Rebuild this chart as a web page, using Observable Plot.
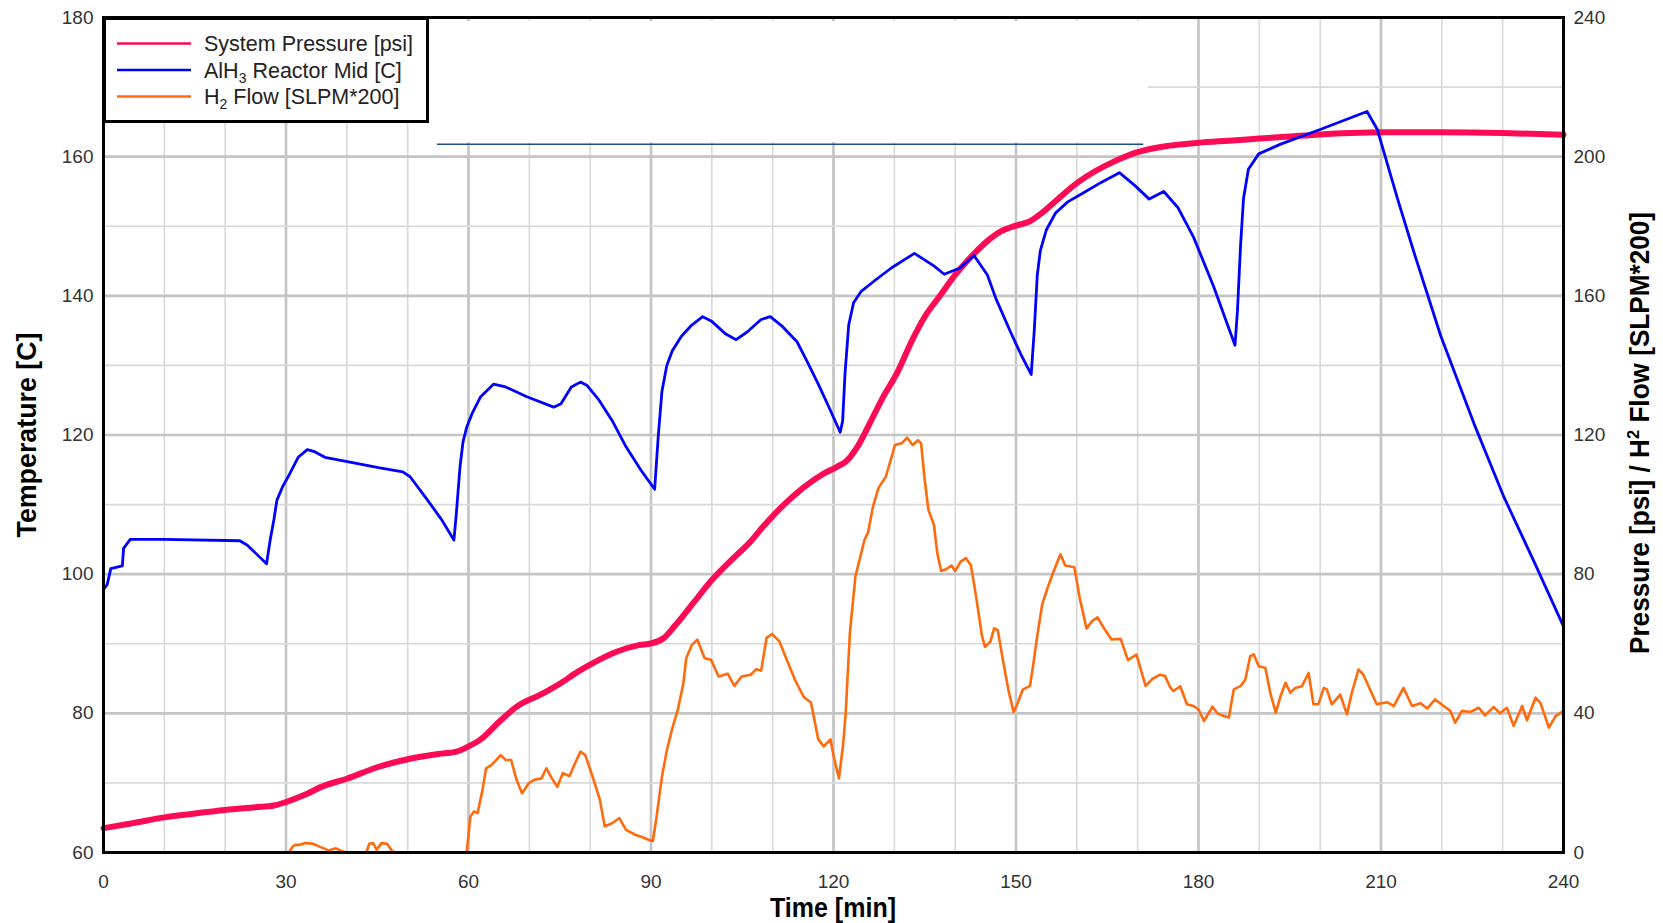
<!DOCTYPE html>
<html><head><meta charset="utf-8">
<script src="https://cdn.jsdelivr.net/npm/d3@7"></script>
<script src="https://cdn.jsdelivr.net/npm/@observablehq/plot@0.6"></script>
<style>
html,body{margin:0;padding:0;background:#fff;}
#chart{width:1663px;height:923px;}
</style></head><body><div id="chart"></div>
<script>
// ---- Data (time in minutes) ----
const tempTime = [0,0.6,1.2,3.1,3.3,4.4,10,22.4,23.6,26.8,27.4,28,28.5,29.4,30.6,32,33.5,34.7,36.4,40.5,45.2,49.2,50.4,53.3,55.6,57.6,58,58.6,59.1,59.7,60.6,62,64.1,66.1,69.6,74,75.2,76.9,78.4,79.5,81.3,83.6,85.9,88.3,90.6,91.2,91.8,92.6,93.5,95,96.7,98.5,99.9,102.3,104,105.8,108.1,109.6,111.6,114,115.7,117.5,119.2,121.1,121.5,121.9,122.5,123.3,124.5,126.8,129.5,133.3,136.5,138.2,140.8,143.1,145.3,146.7,149.1,150.8,152.5,153,153.5,154,155,156.5,158.5,160.9,164,167,169.6,171.9,174.3,176.6,179.2,182.5,186,186.4,186.9,187.4,188.2,189.9,193.5,200,207.7,209.4,212.7,215.4,219.8,225.3,230.2,235.1,240];
const tempValue = [97.8,98.5,100.8,101.2,103.7,105,105,104.8,104.2,101.5,104.9,107.8,110.6,112.5,114.4,116.8,117.9,117.6,116.8,116.1,115.3,114.7,114,110.6,107.8,104.9,108.7,115.4,119,121.1,123.1,125.5,127.3,126.9,125.5,124,124.5,126.9,127.6,127.1,125.2,122.1,118.3,115,112.2,119.9,126.3,130,132.1,134.2,135.8,137,136.4,134.5,133.7,134.8,136.6,137,135.6,133.4,130.5,127.3,124.1,120.4,122,128.9,135.8,139,140.6,142.2,144,146.1,144.3,143.1,144,145.8,143,139.6,134.8,131.6,128.7,135,143,146.5,149.5,151.9,153.5,154.7,156.3,157.7,155.8,153.9,155,152.7,148.4,141.3,132.9,137.8,147,154,158.2,160.4,161.8,163.9,166.5,163.9,154,146.3,134.3,121.6,111.1,101.9,92.5];

const pressTime = [0,5,10,15,20,25,28,30,33,36,40,45,50,55,58,60,62,65,68,72,75,78,80,84,88,90,92,94,97,100,103,106,109,112,115,118,120.5,122,124,126,128,130.5,133,135,137.5,140,142.5,145,147.5,150,152,154,157,160,163,166,170,175,180,185,190,195,200,205,210,220,230,240];
const pressValue = [7,8.5,10.1,11.2,12.2,13,13.5,14.5,16.5,19,21.2,24.5,26.8,28.3,29,30.5,32.5,37.5,42,45.5,48.5,52,54,57.5,59.6,60.1,61.5,65.3,71.8,78.3,83.7,88.7,94.8,100.2,104.8,108.5,110.8,112.3,116.8,123.5,130.4,138,147.5,154,160,166,171,175.3,178.5,180.2,181.2,183.5,188,192.4,195.8,198.5,201.3,203.1,204,204.6,205.2,205.8,206.4,206.8,207,207,206.8,206.3];

const flowTime = [0,30.5,31,31.5,32.3,33.2,34.4,35.5,37,38.2,39.3,40,43.2,43.7,44.3,44.9,45.7,46.6,47.5,48,59.7,60.3,60.9,61.5,62.3,62.9,63.8,65.3,66.1,67,67.9,68.8,69.9,70.8,72,72.8,73.7,74.6,75.5,76.6,77.5,78.4,79.2,80.4,81.6,82.4,83.6,84.8,85.9,87.4,88.6,89.7,90.3,90.9,91.8,92.6,93.5,94.4,95.3,95.8,96.7,97.6,98.8,99.9,101.1,102.6,103.7,104.9,106.4,107.3,108.1,109,109.9,111.1,112.2,113.7,115.1,116.3,117.5,118.4,119.5,120.1,120.9,121.6,122,122.7,123.6,124.5,125.1,125.7,126.5,127.4,128.6,129.5,130.1,131.2,132.1,133,133.9,134.4,135,135.6,136.5,137.1,137.7,138.5,139.4,140,140.9,141.8,142.6,143.5,144.4,144.9,145.8,146.4,147,147.9,148.8,149.6,150.2,151.1,152.3,152.9,153.5,154.3,155.2,156.1,157.3,158.1,159.6,160.5,161.6,162.5,163.4,164.3,165.7,167.2,168.4,169.8,171.3,172.5,173.7,174.5,175.4,175.9,177,178.1,179.2,180,180.9,182.3,183.1,183.9,185,185.8,186.9,187.7,188.5,189.1,189.9,191,191.8,192.7,193.5,194.3,195.1,195.9,197,198.1,198.9,199.7,200.6,201.1,201.9,203.3,204.4,205.2,206.3,207.1,209.3,211,212.1,213.7,215.1,216.5,217.6,218.9,220.3,221.4,222.2,223.3,224.7,226.1,227.1,228.5,229.6,230.7,231.8,233.2,234,235.4,236.2,237.6,238.7,239.8,240];
const flowValue = [0,0,1.5,2.2,2.2,2.7,2.5,1.7,0.6,1.2,0.3,0,0,2.5,2.7,0.8,2.7,2.5,0.3,0,0,10.3,11.8,11.3,18,24.2,25.2,28,26.6,26.6,20.9,17,19.9,20.9,21.3,24.2,21.3,18.9,22.8,22,25.6,29,28,21.8,15.1,7.5,8.4,9.9,6.5,5.1,4.4,3.6,3.3,10.1,21.8,29.3,35.7,41,48.4,55.9,59.6,61.2,55.9,55.3,50.6,51.4,47.9,50.6,51.1,52.7,52.2,61.7,62.8,60.7,55.9,49.5,44.7,43.1,32.5,30.5,32.5,27.1,21.3,31.4,39.9,63.3,79.3,85.7,89.9,92.1,99.5,104.8,108,113.4,117.1,117.6,119.2,117.1,118.5,117.6,107,98.5,94.2,85.7,80.9,81.4,82.5,80.9,83.6,84.6,82.5,72.9,62.3,59.1,60.7,64.4,63.9,54.8,46.3,40.4,42.6,46.8,47.9,54.8,62.3,71.3,76.1,80.4,85.7,82.5,82,72.9,64.4,66.5,67.6,64.9,61.2,61.4,55.3,56.9,47.9,50,51.1,50.7,47.3,46.4,47.8,42.6,42.1,41.1,37.8,41.9,40,39.4,38.8,46.9,47.8,49.7,56.4,56.9,53.5,53,45.9,40.2,45,48.8,45.9,47.3,47.8,51.6,42.6,42.6,47.3,46.9,42.6,45.4,39.7,45.9,52.6,51.1,42.6,43.2,42.1,47.3,42.1,42.9,41.4,44,42.1,40.7,37.3,40.7,40.4,41.6,39.4,41.8,40,41.6,36.4,42.1,38,44.5,43,35.9,39.2,40.4,40.4];

// Axis ticks / domains
const xDomain = [0, 240];
const tempDomain = [60, 180];      // left axis [C]
const rightDomain = [0, 240];      // right axis [psi] / flow
const xTickLabels = d3.range(0, 241, 30);
const xGridMinor = d3.range(0, 241, 10);
const yTickLabels = d3.range(60, 181, 20);
const yGridMinor = d3.range(60, 181, 10);

// Artifact in the original: white patch with a thin navy line
const patchTime = [53.6, 171.8];
const patchTemp = [162.0, 179.4];
const artifactLineTime = [54.9, 171.0];
const artifactLineTemp = [161.8];

const seriesColors = ["#ff0a55", "#0000ff", "#ff6a0d"];

// map right-axis values onto left scale
const toLeft = v => tempDomain[0] + (v - rightDomain[0]) * (tempDomain[1] - tempDomain[0]) / (rightDomain[1] - rightDomain[0]);
const fromLeft = t => rightDomain[0] + (t - tempDomain[0]) * (rightDomain[1] - rightDomain[0]) / (tempDomain[1] - tempDomain[0]);

const temp = tempTime.map((t, i) => ({t, v: tempValue[i]}));
const press = pressTime.map((t, i) => ({t, v: toLeft(pressValue[i])}));
const flow = flowTime.map((t, i) => ({t, v: toLeft(flowValue[i])}));

const FONT = "'Liberation Sans', Arial, Helvetica, sans-serif";

const plot = Plot.plot({
  width: 1663, height: 923,
  marginLeft: 103, marginRight: 100, marginTop: 17, marginBottom: 71,
  style: {fontFamily: FONT, fontSize: "19px", color: "#333", background: "#fff", overflow: "visible"},
  x: {domain: xDomain},
  y: {domain: tempDomain},
  marks: [
    Plot.gridX({ticks: xGridMinor, stroke: "#d9d9d9", strokeOpacity: 1, strokeWidth: 1.6}),
    Plot.gridX({ticks: xTickLabels, stroke: "#c4c4c4", strokeOpacity: 1, strokeWidth: 2.6}),
    Plot.gridY({ticks: yGridMinor, stroke: "#d9d9d9", strokeOpacity: 1, strokeWidth: 1.6}),
    Plot.gridY({ticks: yTickLabels, stroke: "#c4c4c4", strokeOpacity: 1, strokeWidth: 2.6}),
    Plot.rect([0], {x1: () => patchTime[0], x2: () => patchTime[1], y1: () => patchTemp[0], y2: () => patchTemp[1], fill: "#fff"}),
    Plot.ruleY(artifactLineTemp, {x1: artifactLineTime[0], x2: artifactLineTime[1], stroke: "#1d4f8a", strokeWidth: 1.5}),
    Plot.line(flow, {x: "t", y: "v", stroke: seriesColors[2], strokeWidth: 2.6, strokeLinejoin: "round"}),
    Plot.line(press, {x: "t", y: "v", stroke: seriesColors[0], strokeWidth: 6, curve: "monotone-x"}),
    Plot.line(temp, {x: "t", y: "v", stroke: seriesColors[1], strokeWidth: 2.8, strokeLinejoin: "round"}),
    Plot.frame({stroke: "#000", strokeWidth: 3}),
    Plot.axisX({ticks: xTickLabels, tickSize: 0, tickPadding: 22, label: null}),
    Plot.axisY({ticks: yTickLabels, anchor: "left", tickSize: 0, tickPadding: 10, label: null}),
    Plot.axisY({ticks: yTickLabels, anchor: "right", tickSize: 0, tickPadding: 10, label: null, tickFormat: d => String(fromLeft(d))})
  ]
});
document.getElementById("chart").appendChild(plot);

// ---- Titles and legend ----
const svg = d3.select(plot);
const titleFont = "'Liberation Sans', Arial, sans-serif";

svg.append("text").text("Time [min]")
  .attr("x", 833).attr("y", 917).attr("text-anchor", "middle")
  .attr("font-family", titleFont).attr("font-weight", "bold").attr("font-size", 27).attr("fill", "#000")
  .attr("textLength", 126).attr("lengthAdjust", "spacingAndGlyphs");

svg.append("text").text("Temperature [C]")
  .attr("transform", "translate(36,435) rotate(-90)").attr("text-anchor", "middle")
  .attr("font-family", titleFont).attr("font-weight", "bold").attr("font-size", 27).attr("fill", "#000")
  .attr("textLength", 205).attr("lengthAdjust", "spacingAndGlyphs");

const rt = svg.append("text")
  .attr("transform", "translate(1649,433) rotate(-90)").attr("text-anchor", "middle")
  .attr("font-family", titleFont).attr("font-weight", "bold").attr("font-size", 27).attr("fill", "#000")
  .attr("textLength", 442).attr("lengthAdjust", "spacingAndGlyphs");
rt.append("tspan").text("Pressure [psi] / H");
rt.append("tspan").text("2").attr("font-size", 17).attr("dy", -10);
rt.append("tspan").text(" Flow [SLPM*200]").attr("dy", 10);

const lg = svg.append("g").attr("text-anchor", "start");
lg.append("rect").attr("x", 104.5).attr("y", 18.5).attr("width", 323).attr("height", 103)
  .attr("fill", "#fff").attr("stroke", "#000").attr("stroke-width", 3);
const rowY = [43.5, 70, 96.5];
const parts = [
  [["System Pressure [psi]", 0]],
  [["AlH", 0], ["3", 1], [" Reactor Mid [C]", 0]],
  [["H", 0], ["2", 1], [" Flow [SLPM*200]", 0]]
];
rowY.forEach((y, i) => {
  lg.append("line").attr("x1", 117).attr("x2", 191).attr("y1", y).attr("y2", y)
    .attr("stroke", seriesColors[i]).attr("stroke-width", 2.6);
  const tx = lg.append("text").attr("x", 204).attr("y", y + 7.5).attr("text-anchor", "start")
    .attr("font-family", FONT).attr("font-size", 21.5).attr("fill", "#222");
  let sub = false;
  parts[i].forEach(([s, isSub]) => {
    const ts = tx.append("tspan").text(s);
    if (isSub && !sub) { ts.attr("font-size", 14).attr("dy", 5); sub = true; }
    else if (!isSub && sub) { ts.attr("dy", -5); sub = false; }
  });
});
</script>
</body></html>
